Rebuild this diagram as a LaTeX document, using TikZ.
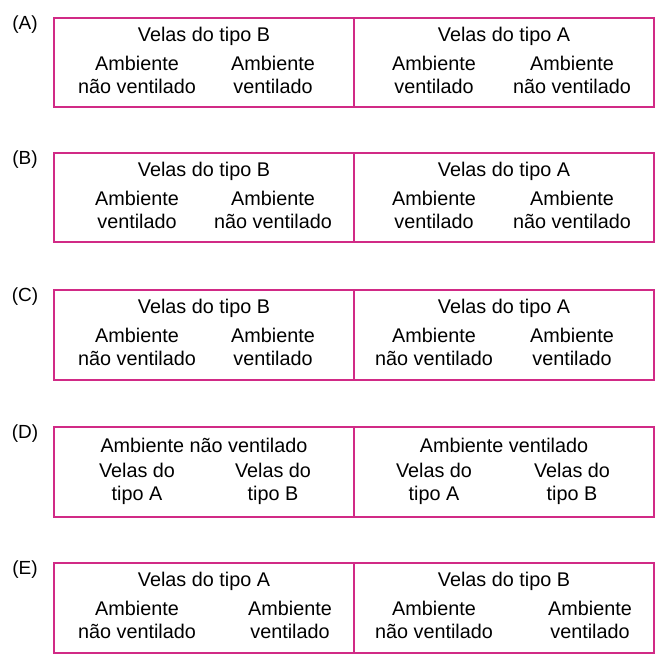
\documentclass[tikz,border=0pt]{standalone}
\usepackage{fontspec}
\setmainfont{Liberation Sans}
\definecolor{mag}{HTML}{D12A86}
\begin{document}
\begin{tikzpicture}[x=1pt,y=-1pt,
  boxline/.style={draw=mag,line width=1.6pt},
  txt/.style={font=\fontsize{19.8}{22.5}\selectfont,align=center,inner sep=0pt},
  lab/.style={font=\fontsize{19}{20}\selectfont,inner sep=0pt}]
\useasboundingbox (0,0) rectangle (666,667);
\newcommand{\optbox}[9]{%
  \draw[boxline] (54,#2) rectangle (654,#3);
  \draw[boxline] (354,#2) -- (354,#3);
  \node[lab] (#1lab) at (25,#2+7) {(#1)};
  \node[txt] (#1tl) at (204,#2+18) {#4};
  \node[txt] (#1tr) at (504,#2+18) {#5};
  \node[txt] (#1a) at (137,#2+57) {#6};
  \node[txt] (#1b) at (\colb,#2+57) {#7};
  \node[txt] (#1c) at (434,#2+57) {#8};
  \node[txt] (#1d) at (\cold,#2+57) {#9};
}
\def\colb{273}\def\cold{572}
\optbox{A}{18}{107}{Velas do tipo B}{Velas do tipo A}{Ambiente\\não ventilado}{Ambiente\\ventilado}{Ambiente\\ventilado}{Ambiente\\não ventilado}
\optbox{B}{153}{242}{Velas do tipo B}{Velas do tipo A}{Ambiente\\ventilado}{Ambiente\\não ventilado}{Ambiente\\ventilado}{Ambiente\\não ventilado}
\optbox{C}{290}{380}{Velas do tipo B}{Velas do tipo A}{Ambiente\\não ventilado}{Ambiente\\ventilado}{Ambiente\\não ventilado}{Ambiente\\ventilado}
\optbox{D}{427}{517}{Ambiente não ventilado}{Ambiente ventilado}{Velas do\\tipo A}{Velas do\\tipo B}{Velas do\\tipo A}{Velas do\\tipo B}
\def\colb{290}\def\cold{590}
\optbox{E}{563}{653}{Velas do tipo A}{Velas do tipo B}{Ambiente\\não ventilado}{Ambiente\\ventilado}{Ambiente\\não ventilado}{Ambiente\\ventilado}
\end{tikzpicture}
\end{document}
